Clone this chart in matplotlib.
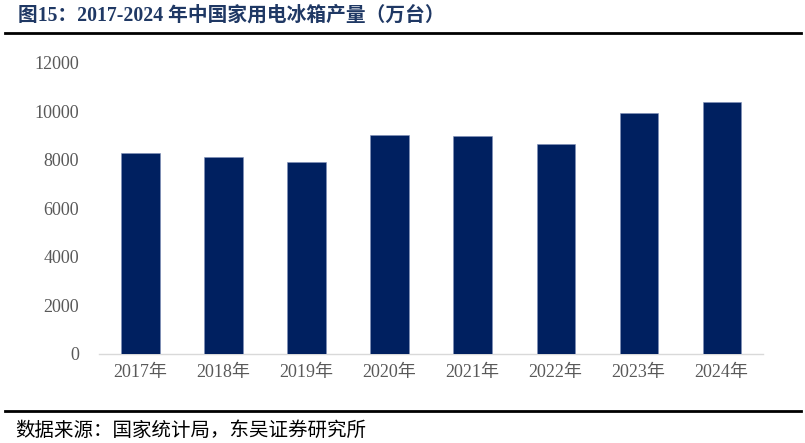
import matplotlib
matplotlib.use("Agg")
import matplotlib.pyplot as plt
from matplotlib.lines import Line2D

categories = ["2017年", "2018年", "2019年", "2020年", "2021年", "2022年", "2023年", "2024年"]
values = [8300, 8110, 7905, 9015, 8992, 8664, 9940, 10400]
yticks = [0, 2000, 4000, 6000, 8000, 10000, 12000]
title = "图15：2017-2024 年中国家用电冰箱产量（万台）"
source = "数据来源：国家统计局，东吴证券研究所"

fam = ["Liberation Serif", "Noto Sans CJK SC", "DejaVu Sans"]
plt.rcParams["font.family"] = fam

fig = plt.figure(figsize=(8.05, 4.43), dpi=100)
ax = fig.add_axes([0.123, 0.201, 0.825, 0.657])
x = range(len(categories))
ax.bar(x, values, width=0.46, color="#002060", edgecolor="#8090b8", linewidth=0.4, zorder=3)
ax.set_xlim(-0.5, len(categories) - 0.5)
ax.set_ylim(0, 12000)
ax.set_yticks(yticks)
ax.set_yticklabels([str(v) for v in yticks])
ax.set_xticks(list(x))
ax.set_xticklabels(categories)
for s in ["top", "right", "left"]:
    ax.spines[s].set_visible(False)
ax.spines["bottom"].set_color("#d9d9d9")
ax.spines["bottom"].set_linewidth(1.0)
ax.tick_params(axis="both", length=0, labelsize=13, labelcolor="#595959")
ax.tick_params(axis="y", pad=14.5)
ax.tick_params(axis="x", pad=7)

fig.text(0.022, 0.965, title, fontsize=14.2, fontweight="bold", color="#1f3864",
         va="center", ha="left", family=fam)
fig.add_artist(Line2D([0.006, 0.995], [0.9255, 0.9255], color="black", linewidth=2.0,
                      transform=fig.transFigure))
fig.add_artist(Line2D([0.006, 0.995], [0.072, 0.072], color="black", linewidth=2.0,
                      transform=fig.transFigure))
fig.text(0.019, 0.029, source, fontsize=14, color="black", va="center", ha="left",
         family=["Noto Sans CJK SC", "DejaVu Sans"])

fig.savefig("out.png", dpi=100)
